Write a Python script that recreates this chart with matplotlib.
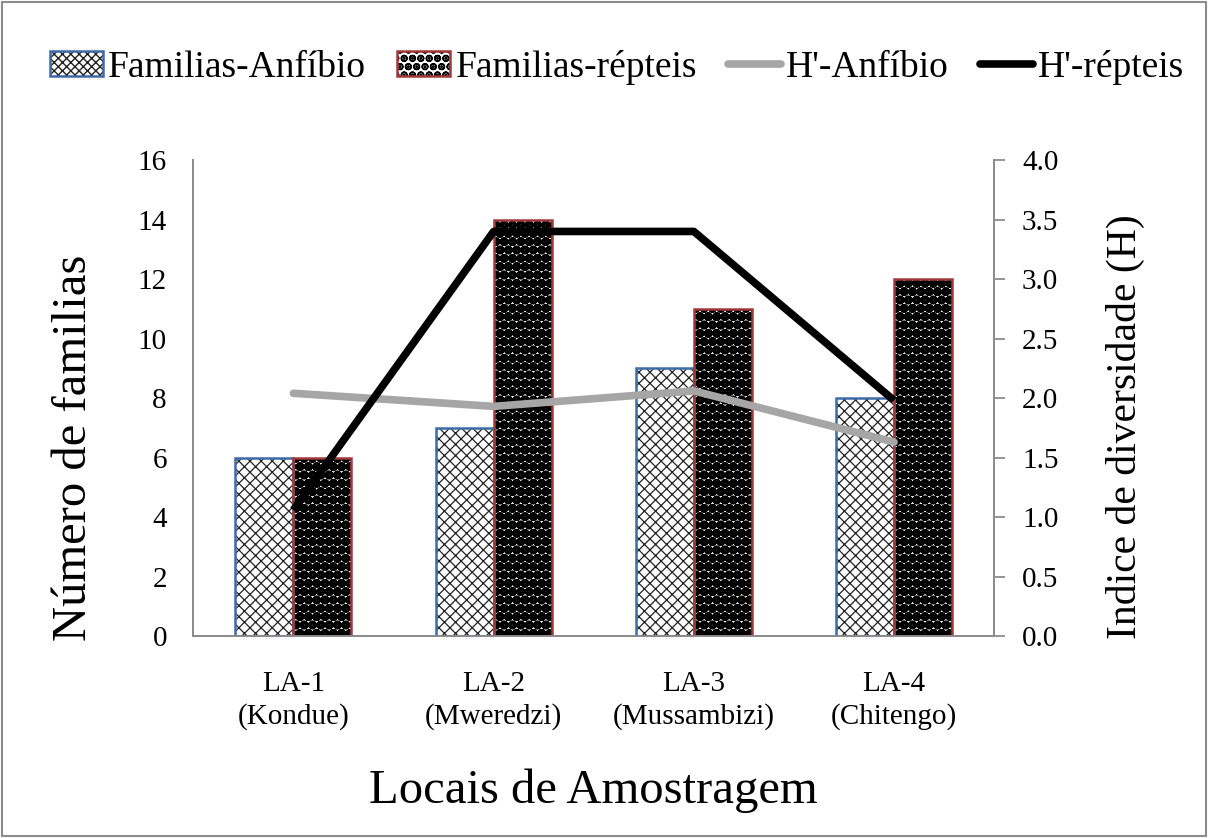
import matplotlib as mpl
import matplotlib.pyplot as plt
import numpy as np
from matplotlib.patches import Rectangle

# Data
locais = ['LA-1\n(Kondue)', 'LA-2\n(Mweredzi)', 'LA-3\n(Mussambizi)', 'LA-4\n(Chitengo)']
fam_anfibio = [6, 7, 9, 8]
fam_repteis = [6, 14, 11, 12]
h_anfibio = [2.04, 1.93, 2.06, 1.63]
h_repteis = [1.06, 3.40, 3.40, 1.98]

plt.rcParams['font.family'] = ['Liberation Serif', 'DejaVu Serif']

# Layout
fig = plt.figure(figsize=(12.08, 8.38), dpi=100)
ax = fig.add_axes([0.16, 0.241, 0.663, 0.568])
ax2 = ax.twinx()
fig.patches.append(Rectangle((0.002, 0.002), 0.996, 0.996, transform=fig.transFigure,
                             fill=False, edgecolor='#8c8c8c', linewidth=1.5))

x = np.arange(len(locais))
w = 0.29
blue = '#3E6BA8'
red = '#A0393A'


def hatched(patches, lw):
    for p in patches:
        if hasattr(p, 'set_hatch_linewidth'):
            p.set_hatch_linewidth(lw)


# Bars: hatch layer then coloured outline
with mpl.rc_context({'hatch.linewidth': 0.9}):
    b1 = ax.bar(x - w/2, fam_anfibio, w, facecolor='white', edgecolor='#222222', hatch='xxx',
                linewidth=0, zorder=2)
hatched(b1, 0.9)
ax.bar(x - w/2, fam_anfibio, w, fill=False, edgecolor=blue, linewidth=1.8, zorder=3)
with mpl.rc_context({'hatch.linewidth': 2.2}):
    b2 = ax.bar(x + w/2, fam_repteis, w, facecolor='white', edgecolor='black', hatch='OO..',
                linewidth=0, zorder=2)
hatched(b2, 2.2)
ax.bar(x + w/2, fam_repteis, w, fill=False, edgecolor=red, linewidth=1.8, zorder=3)

# Lines
ax2.plot(x, h_anfibio, color='#a6a6a6', linewidth=5.5, solid_capstyle='round', zorder=4)
ax2.plot(x, h_repteis, color='black', linewidth=5.5, solid_capstyle='butt', zorder=5)

# Axes details
ax.set_xlim(-0.5, 3.5)
ax.set_ylim(0, 16)
ax.set_yticks(range(0, 17, 2))
ax2.set_ylim(0, 4.0)
ticks_h = np.arange(0, 4.01, 0.5)
ax2.set_yticks(ticks_h)
ax2.set_yticklabels([f'{v:.1f}' for v in ticks_h])
ax.set_xticks(x)
ax.set_xticklabels(locais, fontsize=21, linespacing=1.3)

for a in (ax, ax2):
    a.spines['top'].set_visible(False)
    for s in ('left', 'right', 'bottom'):
        a.spines[s].set_color('#8c8c8c')
        a.spines[s].set_linewidth(1.3)

ax.tick_params(axis='y', length=0, labelsize=21, pad=19)
ax.tick_params(axis='x', length=0, pad=25)
ax2.tick_params(axis='y', direction='out', length=8, color='#8c8c8c', width=1.3,
                labelsize=21, pad=12)

ax.set_ylabel('Número de familias', fontsize=35, labelpad=30, y=0.395)
ax2.set_ylabel('Indice de diversidade (H)', fontsize=30, labelpad=34, y=0.44)
ax.set_xlabel('Locais de Amostragem', fontsize=35, labelpad=28)

# Legend (hatch layer + coloured outline, like the bars)
with mpl.rc_context({'hatch.linewidth': 0.8}):
    h1a = Rectangle((0, 0), 1, 1, facecolor='white', edgecolor='#222222', hatch='xxxx',
                    linewidth=0)
with mpl.rc_context({'hatch.linewidth': 1.6}):
    h2a = Rectangle((0, 0), 1, 1, facecolor='white', edgecolor='black', hatch='OO..',
                    linewidth=0)
h1b = Rectangle((0, 0), 1, 1, fill=False, edgecolor=blue, linewidth=1.8)
h2b = Rectangle((0, 0), 1, 1, fill=False, edgecolor=red, linewidth=1.8)
handles = [
    (h1a, h1b), (h2a, h2b),
    plt.Line2D([], [], color='#a6a6a6', linewidth=5.5, solid_capstyle='round'),
    plt.Line2D([], [], color='black', linewidth=5.5, solid_capstyle='round'),
]
labels = ['Familias-Anfíbio', 'Familias-répteis', "H'-Anfíbio", "H'-répteis"]
fig.legend(handles, labels, loc='center', bbox_to_anchor=(0.511, 0.92), ncol=4,
           frameon=False, fontsize=27, handlelength=1.4, handleheight=0.65,
           handletextpad=0.15, columnspacing=0.83, borderaxespad=0)

# Save
fig.savefig('out.png', dpi=100)
